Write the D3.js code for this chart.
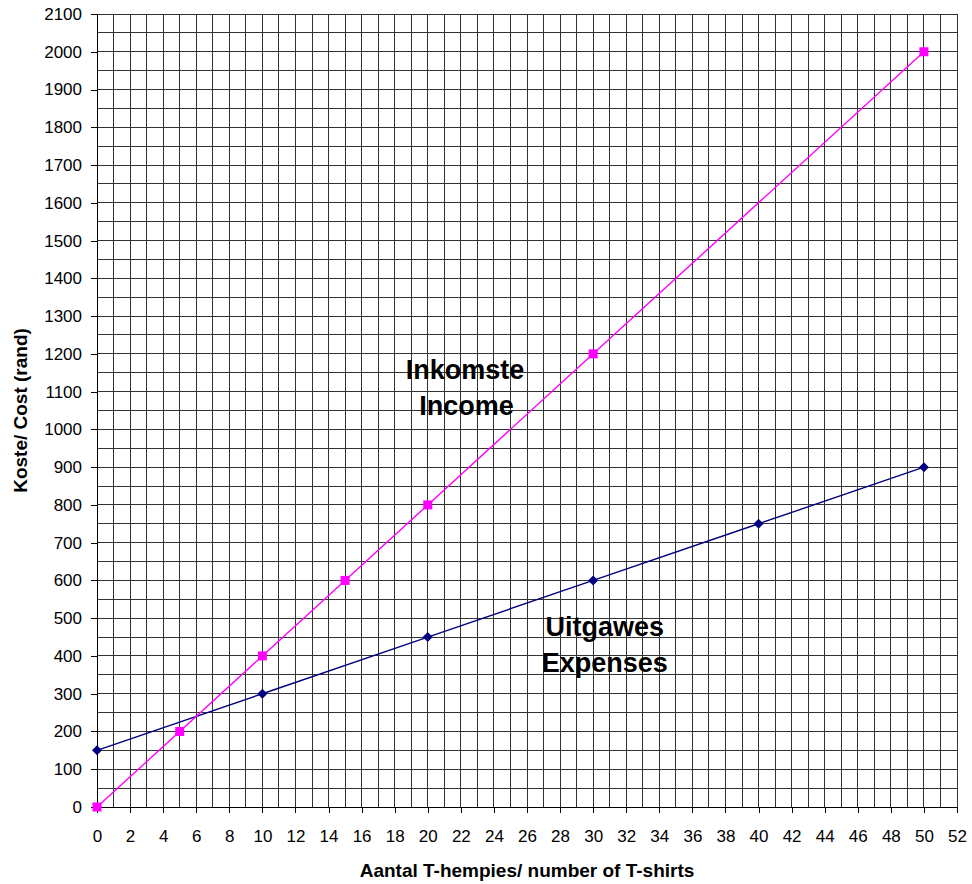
<!DOCTYPE html>
<html>
<head>
<meta charset="utf-8">
<script src="https://cdn.jsdelivr.net/npm/d3@7"></script>
<style>
  body { margin: 0; background: #fff; }
  text { font-family: "Liberation Sans", Arial, sans-serif; }
</style>
</head>
<body>
<div id="chart"></div>
<script>
var width = 972,
    height = 884;

// data
var incomeX = [0, 5, 10, 15, 20, 30, 50];
var incomeY = [0, 200, 400, 600, 800, 1200, 2000];
var expenseX = [0, 10, 20, 30, 40, 50];
var expenseY = [150, 300, 450, 600, 750, 900];
var xTicks = d3.range(0, 53, 2);
var yTicks = d3.range(0, 2101, 100);

var margin = {left: 97, right: 15, top: 14, bottom: 77};

var svg = d3.select('#chart')
    .append('svg')
    .attr('width', width)
    .attr('height', height);

var x = d3.scaleLinear().domain([0, 52]).range([margin.left, width - margin.right]);
var y = d3.scaleLinear().domain([0, 2100]).range([height - margin.bottom, margin.top]);

// grid
var grid = svg.append('g').attr('stroke', '#333').attr('stroke-width', 1).attr('shape-rendering', 'crispEdges');
grid.selectAll('line.v')
    .data(d3.range(0, 53, 1))
    .enter()
    .append('line')
    .attr('x1', d => x(d)).attr('x2', d => x(d))
    .attr('y1', y(0)).attr('y2', y(2100));
grid.selectAll('line.h')
    .data(d3.range(0, 2101, 50))
    .enter()
    .append('line')
    .attr('class', 'h')
    .attr('y1', d => y(d)).attr('y2', d => y(d))
    .attr('x1', x(0)).attr('x2', x(52));

// axes
var xAxis = d3.axisBottom(x).tickValues(xTicks).tickSize(6).tickPadding(17).tickFormat(d3.format('d'));
var yAxis = d3.axisLeft(y).tickValues(yTicks).tickSize(6).tickPadding(9).tickFormat(d3.format('d'));

var gx = svg.append('g').attr('transform', 'translate(0,' + y(0) + ')').call(xAxis);
var gy = svg.append('g').attr('transform', 'translate(' + x(0) + ',0)').call(yAxis);
[gx, gy].forEach(g => {
    g.select('.domain').attr('stroke', '#000').attr('shape-rendering', 'crispEdges');
    g.selectAll('.tick line').attr('stroke', '#000').attr('shape-rendering', 'crispEdges');
    g.selectAll('.tick text')
        .attr('fill', '#000')
        .style('font-family', '"Liberation Sans", Arial, sans-serif')
        .style('font-size', '17px');
});

// lines
var line = d3.line().x(d => x(d[0])).y(d => y(d[1]));
var income = d3.zip(incomeX, incomeY);
var expenses = d3.zip(expenseX, expenseY);

svg.append('path')
    .datum(expenses)
    .attr('fill', 'none')
    .attr('stroke', '#000080')
    .attr('stroke-width', 1.4)
    .attr('d', line);

svg.append('path')
    .datum(income)
    .attr('fill', 'none')
    .attr('stroke', '#FF00FF')
    .attr('stroke-width', 1.4)
    .attr('d', line);

svg.selectAll('path.diamond')
    .data(expenses)
    .enter()
    .append('path')
    .attr('class', 'diamond')
    .attr('fill', '#000080')
    .attr('d', d => {
        var cx = x(d[0]), cy = y(d[1]), r = 5;
        return 'M' + cx + ',' + (cy - r) + 'L' + (cx + r) + ',' + cy + 'L' + cx + ',' + (cy + r) + 'L' + (cx - r) + ',' + cy + 'Z';
    });

svg.selectAll('rect.sq')
    .data(income)
    .enter()
    .append('rect')
    .attr('class', 'sq')
    .attr('fill', '#FF00FF')
    .attr('x', d => x(d[0]) - 4.5)
    .attr('y', d => y(d[1]) - 4.5)
    .attr('width', 9)
    .attr('height', 9);

// annotations (baseline positions in data units)
var labels = [
    {t: 'Inkomste', cx: 22.25, cy: 1133},
    {t: 'Income', cx: 22.35, cy: 1038},
    {t: 'Uitgawes', cx: 30.7, cy: 453},
    {t: 'Expenses', cx: 30.7, cy: 357}
];
svg.selectAll('text.note')
    .data(labels)
    .enter()
    .append('text')
    .attr('class', 'note')
    .attr('x', d => x(d.cx))
    .attr('y', d => y(d.cy))
    .attr('text-anchor', 'middle')
    .style('font-size', '27px')
    .style('font-weight', 'bold')
    .text(d => d.t);

// axis titles
svg.append('text')
    .attr('x', (x(0) + x(52)) / 2)
    .attr('y', 877)
    .attr('text-anchor', 'middle')
    .style('font-size', '19px')
    .style('font-weight', 'bold')
    .text('Aantal T-hempies/ number of T-shirts');

svg.append('text')
    .attr('transform', 'translate(27,' + (y(1050)) + ') rotate(-90)')
    .attr('text-anchor', 'middle')
    .style('font-size', '19px')
    .style('font-weight', 'bold')
    .text('Koste/ Cost (rand)');
</script>
</body>
</html>
